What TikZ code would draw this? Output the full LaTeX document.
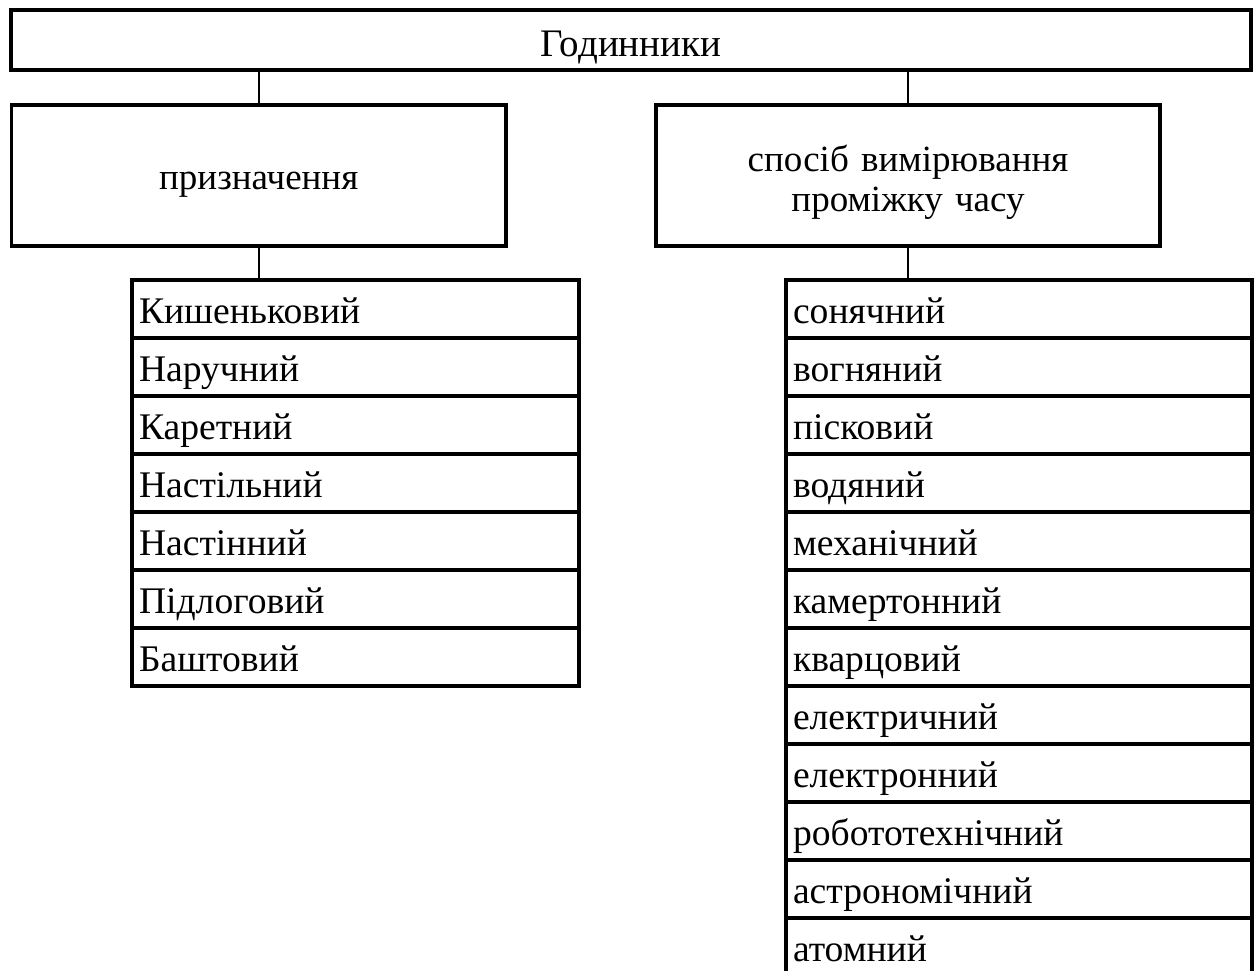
\documentclass[tikz,border=0pt]{standalone}
\usepackage{fontspec}
\setmainfont{Liberation Serif}

\tikzset{
  headbox/.style={draw, line width=1.8pt, inner sep=0pt, outer sep=0pt,
    font=\fontsize{18.5}{20}\selectfont},
  itembox/.style={headbox, anchor=north west, text width=#1, align=left,
    inner xsep=3.5pt, inner ysep=0pt, minimum height=29pt,
    text height=14pt, text depth=0pt, font=\fontsize{18.8}{20}\selectfont},
  link/.style={line width=1pt}
}

\begin{document}
\begin{tikzpicture}[x=0.5pt,y=-0.5pt]
  \path[use as bounding box] (0,0) rectangle (1256,970);
  \clip (0,0) rectangle (1256,970);

  \node[headbox, minimum width=619.75pt, minimum height=30pt,
        font=\fontsize{19.5}{20}\selectfont,
        text height=16pt, text depth=0pt] (clocks) at (631,40) {Годинники};
  \node[headbox, minimum width=247.25pt, minimum height=70.5pt,
        text height=13.5pt, text depth=0pt] (purp) at (258.75,175.5) {призначення};
  \node[headbox, minimum width=252pt, minimum height=70.5pt, text width=240pt,
        align=center, text height=0pt, text depth=4.5pt] (way) at (908,175.5)
        {спосіб вимірювання\\проміжку часу};

  \foreach \txt [count=\i] in {Кишеньковий,Наручний,Каретний,Настільний,
      Настінний,Підлоговий,Баштовий}
    \node[itembox=216.5pt] (l\i) at (132,{280+58*(\i-1)}) {\txt};

  \foreach \txt [count=\i] in {сонячний,вогняний,пісковий,водяний,механічний,
      камертонний,кварцовий,електричний,електронний,робототехнічний,
      астрономічний,атомний}
    \node[itembox=226pt] (r\i) at (786,{280+58*(\i-1)}) {\txt};

  \draw[link] (purp.north) -- (purp.north |- clocks.south);
  \draw[link] (way.north) -- (way.north |- clocks.south);
  \draw[link] (purp.south) -- (purp.south |- l1.north);
  \draw[link] (way.south) -- (way.south |- r1.north);
\end{tikzpicture}
\end{document}
